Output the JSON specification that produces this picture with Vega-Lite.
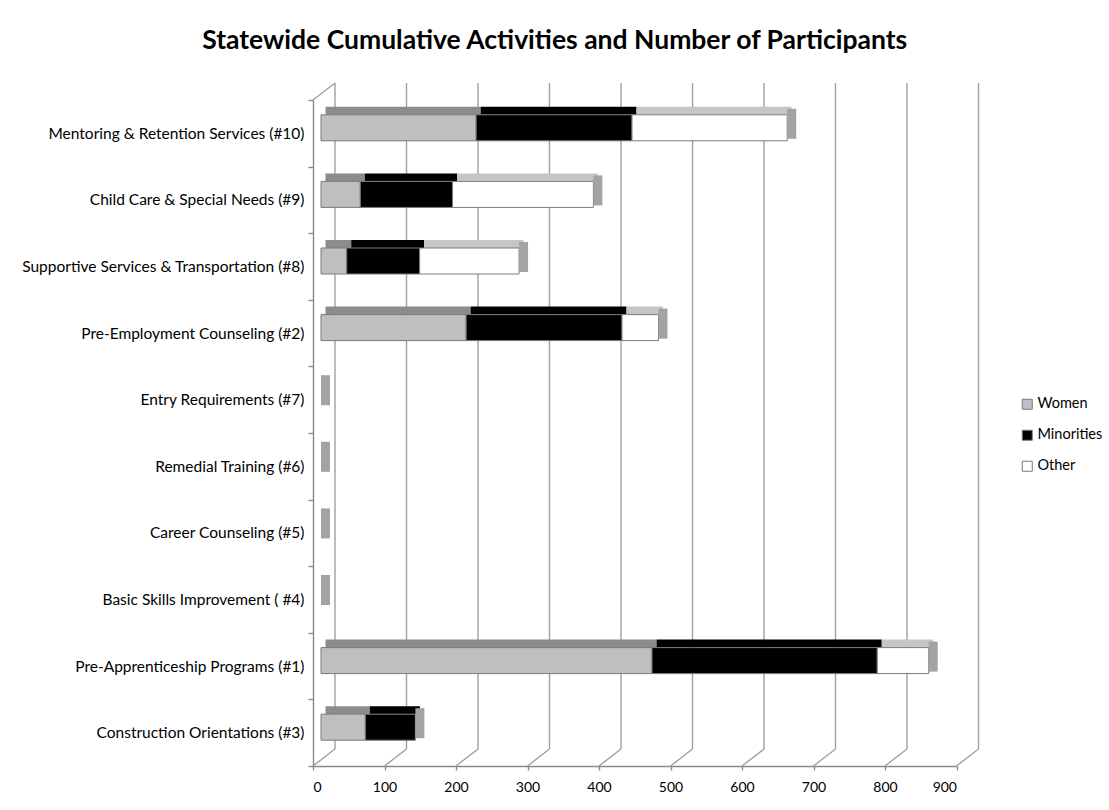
{
  "$schema": "https://vega.github.io/schema/vega-lite/v6.json",
  "autosize": {"type": "none"},
  "width": 643.5,
  "height": 666,
  "padding": {"left": 313, "top": 100, "right": 152.5, "bottom": 44},
  "background": "white",
  "config": {
    "view": {"stroke": null},
    "axisX": {
      "grid": false,
      "labelFont": "Lato",
      "labelFontSize": 14,
      "labelColor": "#000000",
      "labelPadding": 10,
      "tickSize": 4,
      "tickColor": "#8a8a8a",
      "domainColor": "#8a8a8a",
      "domainWidth": 1.4,
      "tickWidth": 1.4
    }
  },
  "title": {
    "text": "Statewide Cumulative Activities and Number of Participants",
    "font": "Lato",
    "fontSize": 26.5,
    "fontWeight": "bold",
    "color": "#000000",
    "anchor": "middle",
    "dx": -80,
    "offset": 28
  },
  "datasets": {
    "participants": [
      {"category": "Mentoring & Retention Services (#10)", "group": "Women", "value": 217},
      {"category": "Mentoring & Retention Services (#10)", "group": "Minorities", "value": 218},
      {"category": "Mentoring & Retention Services (#10)", "group": "Other", "value": 217},
      {"category": "Child Care & Special Needs (#9)", "group": "Women", "value": 55},
      {"category": "Child Care & Special Needs (#9)", "group": "Minorities", "value": 129},
      {"category": "Child Care & Special Needs (#9)", "group": "Other", "value": 197},
      {"category": "Supportive Services & Transportation (#8)", "group": "Women", "value": 36},
      {"category": "Supportive Services & Transportation (#8)", "group": "Minorities", "value": 102},
      {"category": "Supportive Services & Transportation (#8)", "group": "Other", "value": 139},
      {"category": "Pre-Employment Counseling (#2)", "group": "Women", "value": 203},
      {"category": "Pre-Employment Counseling (#2)", "group": "Minorities", "value": 218},
      {"category": "Pre-Employment Counseling (#2)", "group": "Other", "value": 51},
      {"category": "Entry Requirements (#7)", "group": "Women", "value": 0},
      {"category": "Entry Requirements (#7)", "group": "Minorities", "value": 0},
      {"category": "Entry Requirements (#7)", "group": "Other", "value": 0},
      {"category": "Remedial Training (#6)", "group": "Women", "value": 0},
      {"category": "Remedial Training (#6)", "group": "Minorities", "value": 0},
      {"category": "Remedial Training (#6)", "group": "Other", "value": 0},
      {"category": "Career Counseling (#5)", "group": "Women", "value": 0},
      {"category": "Career Counseling (#5)", "group": "Minorities", "value": 0},
      {"category": "Career Counseling (#5)", "group": "Other", "value": 0},
      {"category": "Basic Skills Improvement ( #4)", "group": "Women", "value": 0},
      {"category": "Basic Skills Improvement ( #4)", "group": "Minorities", "value": 0},
      {"category": "Basic Skills Improvement ( #4)", "group": "Other", "value": 0},
      {"category": "Pre-Apprenticeship Programs (#1)", "group": "Women", "value": 463},
      {"category": "Pre-Apprenticeship Programs (#1)", "group": "Minorities", "value": 315},
      {"category": "Pre-Apprenticeship Programs (#1)", "group": "Other", "value": 72},
      {"category": "Construction Orientations (#3)", "group": "Women", "value": 62},
      {"category": "Construction Orientations (#3)", "group": "Minorities", "value": 70},
      {"category": "Construction Orientations (#3)", "group": "Other", "value": 0}
    ],
    "gridValues": [
      {"v": 0}, {"v": 100}, {"v": 200}, {"v": 300}, {"v": 400},
      {"v": 500}, {"v": 600}, {"v": 700}, {"v": 800}, {"v": 900}
    ]
  },
  "layer": [
    {
      "data": {"name": "gridValues"},
      "mark": {"type": "rule", "color": "#a0a0a0", "strokeWidth": 1.4, "xOffset": 22, "yOffset": -17, "y2Offset": -17},
      "encoding": {
        "x": {
          "field": "v",
          "type": "quantitative",
          "title": null,
          "scale": {"domain": [0, 900], "nice": false, "zero": true},
          "axis": {"values": [0, 100, 200, 300, 400, 500, 600, 700, 800, 900]}
        },
        "y": {"datum": 0, "type": "quantitative", "scale": {"domain": [0, 1]}, "axis": null},
        "y2": {"datum": 1}
      }
    },
    {
      "data": {"name": "gridValues"},
      "mark": {"type": "rule", "color": "#a0a0a0", "strokeWidth": 1.4, "x2Offset": 22, "y2Offset": -17},
      "encoding": {
        "x": {"field": "v", "type": "quantitative", "title": null},
        "x2": {"field": "v"},
        "y": {"datum": 0, "type": "quantitative", "scale": {"domain": [0, 1]}, "axis": null},
        "y2": {"datum": 0}
      }
    },
    {
      "data": {"name": "gridValues"},
      "transform": [{"filter": "datum.v == 0"}],
      "mark": {"type": "rule", "color": "#a0a0a0", "strokeWidth": 1.4, "x2Offset": 22, "y2Offset": -17},
      "encoding": {
        "x": {"field": "v", "type": "quantitative", "title": null},
        "x2": {"field": "v"},
        "y": {"datum": 1, "type": "quantitative", "scale": {"domain": [0, 1]}, "axis": null},
        "y2": {"datum": 1}
      }
    },
    {
      "data": {"name": "participants"},
      "transform": [
        {"calculate": "indexof(['Women', 'Minorities', 'Other'], datum.group)", "as": "order"},
        {"stack": "value", "groupby": ["category"], "sort": [{"field": "order", "order": "ascending"}], "as": ["start", "end"]}
      ],
      "encoding": {
        "y": {
          "field": "category",
          "type": "nominal",
          "sort": [
            "Mentoring & Retention Services (#10)",
            "Child Care & Special Needs (#9)",
            "Supportive Services & Transportation (#8)",
            "Pre-Employment Counseling (#2)",
            "Entry Requirements (#7)",
            "Remedial Training (#6)",
            "Career Counseling (#5)",
            "Basic Skills Improvement ( #4)",
            "Pre-Apprenticeship Programs (#1)",
            "Construction Orientations (#3)"
          ],
          "scale": {"paddingInner": 0, "paddingOuter": 0},
          "axis": {
            "title": null,
            "labelFont": "Lato",
            "labelFontSize": 15.5,
            "labelColor": "#000000",
            "labelPadding": 4,
            "labelLimit": 400,
            "tickSize": 5,
            "tickColor": "#8a8a8a",
            "domainColor": "#8a8a8a",
            "domainWidth": 1.4,
            "tickWidth": 1.4,
            "tickBand": "extent"
          }
        }
      },
      "layer": [
        {
          "transform": [{"filter": "datum.value > 0"}],
          "mark": {"type": "bar", "height": 8, "yOffset": -22.5, "xOffset": 12.5, "x2Offset": 12.5},
          "encoding": {
            "x": {"field": "start", "type": "quantitative", "title": null},
            "x2": {"field": "end"},
            "fill": {
              "condition": [
                {"test": "datum.group === 'Women'", "value": "#8c8c8c"},
                {"test": "datum.group === 'Other'", "value": "#c6c6c6"}
              ],
              "value": "#000000"
            }
          }
        },
        {
          "transform": [{"filter": "datum.value > 0"}],
          "mark": {"type": "bar", "height": 26, "yOffset": -5.5, "xOffset": 8, "x2Offset": 8, "stroke": "#7a7a7a", "strokeWidth": 1},
          "encoding": {
            "x": {"field": "start", "type": "quantitative", "title": null},
            "x2": {"field": "end"},
            "color": {
              "field": "group",
              "type": "nominal",
              "scale": {"domain": ["Women", "Minorities", "Other"], "range": ["#bfbfbf", "#000000", "#ffffff"]},
              "legend": {
                "title": null,
                "orient": "none",
                "legendX": 707,
                "legendY": 297,
                "padding": 0,
                "symbolType": "square",
                "symbolSize": 100,
                "symbolStrokeColor": "#7a7a7a",
                "symbolStrokeWidth": 1,
                "labelFont": "Lato",
                "labelFontSize": 14.5,
                "labelColor": "#000000",
                "labelOffset": 3,
                "rowPadding": 15
              }
            }
          }
        },
        {
          "transform": [{"aggregate": [{"op": "sum", "field": "value", "as": "total"}], "groupby": ["category"]}],
          "mark": {"type": "tick", "orient": "vertical", "thickness": 9, "size": 30, "xOffset": 12.5, "yOffset": -9.5, "color": "#a3a3a3", "opacity": 1},
          "encoding": {
            "x": {"field": "total", "type": "quantitative", "title": null}
          }
        }
      ]
    }
  ],
  "resolve": {"scale": {"y": "independent"}, "axis": {"y": "independent"}}
}
